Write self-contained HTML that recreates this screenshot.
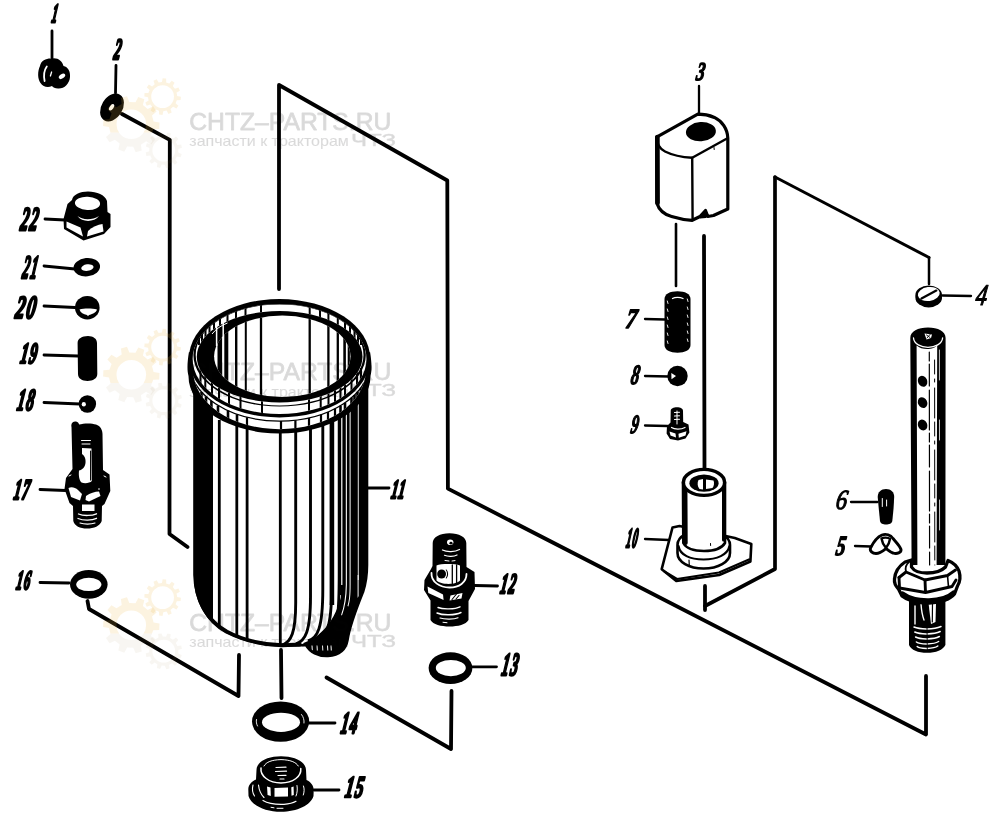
<!DOCTYPE html>
<html lang="ru">
<head>
<meta charset="utf-8">
<title>CHTZ-PARTS.RU</title>
<style>
html,body{margin:0;padding:0;background:#fff;}
body{width:1000px;height:821px;overflow:hidden;font-family:"Liberation Sans",sans-serif;}
svg{display:block;will-change:transform;}
svg text{font-family:"Liberation Sans",sans-serif;}
svg text.n{font-family:"Liberation Serif",serif;font-style:italic;fill:#000;}
.l{stroke:#000;fill:none;stroke-linecap:round;stroke-linejoin:round;}
</style>
</head>
<body>
<svg width="1000" height="821" viewBox="0 0 1000 821">
<rect width="1000" height="821" fill="#fff"/>
<defs>
<clipPath id="cb"><path d="M194.5 380 L194.5 575 C195 600 207 622 226 632 C244 641 262 645.5 282 646 L306 645 C310 652 318 656.5 328 656 C340 655 346 649 347.5 640 C350 624 357 607 363 592 C366 583 367 575 367 565 L367 380 Z"/></clipPath>
<clipPath id="ci"><ellipse cx="279.7" cy="359.5" rx="83.5" ry="46"/></clipPath>
</defs>
<g id="p11">
<path d="M194.5 380 L194.5 575 C195 600 207 622 226 632 C244 641 262 645.5 282 646 L306 645 C310 652 318 656.5 328 656 C340 655 346 649 347.5 640 C350 624 357 607 363 592 C366 583 367 575 367 565 L367 380 Z" fill="#fff" stroke="none"/>
<g clip-path="url(#cb)">
<rect x="190" y="380" width="23" height="280" fill="#000"/>
<rect x="338" y="380" width="34" height="215" fill="#000"/>
<rect x="329.6" y="380" width="4.6" height="225" fill="#000"/>
<rect x="341.2" y="380" width="1.2" height="215" fill="#fff"/>
<rect x="345.8" y="380" width="1.1" height="215" fill="#fff"/>
<rect x="349.6" y="380" width="1.0" height="215" fill="#fff"/>
<rect x="357.8" y="380" width="0.9" height="200" fill="#fff"/>
<path d="M219.3 420 L219.3 660" stroke="#000" stroke-width="2.8" fill="none"/>
<path d="M236.8 420 L236.8 660" stroke="#000" stroke-width="2.8" fill="none"/>
<path d="M247.1 420 L247.1 660" stroke="#000" stroke-width="2.8" fill="none"/>
<path d="M280.3 420 L280.3 660" stroke="#000" stroke-width="2.8" fill="none"/>
<path d="M295.7 420 L295.7 602.8 C295.7 633.0 291.0 642.0 282.4 645.0" stroke="#000" stroke-width="2.9" fill="none"/>
<path d="M310.5 420 L310.5 596.6 C310.5 632.0 305.1 641.0 295.8 644.0" stroke="#000" stroke-width="2.9" fill="none"/>
<path d="M322.8 420 L322.8 589.3 C322.8 629.0 317.4 638.0 308.0 641.0" stroke="#000" stroke-width="2.9" fill="none"/>
<path d="M331.8 420 L331.8 581.1 C331.8 624.0 327.9 633.0 320.0 636.0" stroke="#000" stroke-width="2.9" fill="none"/>
<path d="M339.2 420 L339.2 572.5 C339.2 618.0 337.1 627.0 331.0 630.0" stroke="#000" stroke-width="2.9" fill="none"/>
<path d="M341 585 L370 585 L370 660 L300 660 L303.5 643 C316 638.5 333 627 341 597 Z" fill="#000"/>
<path d="M345.8 585 C345.5 597 344 607 341 615 L342 615.5 C345.2 607 346.7 597 346.9 585 Z" fill="#fff"/>
<path d="M349.6 585 C349.6 595 349 601 347.5 606 L348.4 606.4 C350 601 350.6 595 350.6 585 Z" fill="#fff"/>
<path d="M357.6 575 L357.6 598 L358.6 596 L358.6 575 Z" fill="#fff"/>
<path d="M312.0 645.5 L312.3 650.5" stroke="#fff" stroke-width="1"/>
<path d="M317.0 645.5 L317.3 650.5" stroke="#fff" stroke-width="1"/>
<path d="M322.5 645.5 L322.8 650.5" stroke="#fff" stroke-width="1"/>
<path d="M327.5 645.5 L327.8 650.5" stroke="#fff" stroke-width="1"/>
<path d="M331.0 645.5 L331.3 650.5" stroke="#fff" stroke-width="1"/>
</g>
<path d="M194.5 380 L194.5 575 C195 600 207 622 226 632 C244 641 262 645.5 282 646 L306 645 C310 652 318 656.5 328 656 C340 655 346 649 347.5 640 C350 624 357 607 363 592 C366 583 367 575 367 565 L367 380 Z" fill="none" stroke="#000" stroke-width="2.6" stroke-linejoin="round"/>
<path d="M196 585 C199 606 210 622 227 631.5 C244 640.5 262 644.6 282 645 L300 644.6" fill="none" stroke="#000" stroke-width="3.6" stroke-linecap="round"/>
<path d="M188.9 352.2 C187.3 362.2 186.9 370.2 188.5 375.9 A91.0 57.6 0 0 0 370.5 375.9 C372.1 370.2 371.7 362.2 370.1 352.2 Z" fill="#000"/>
<clipPath id="cfl"><path d="M192.1 358.2 L193.3 371.0 A86.2 58.2 0 0 0 365.7 371.0 L366.9 358.2 Z"/></clipPath>
<g clip-path="url(#cfl)">
<rect x="180" y="350" width="200" height="100" fill="#fff"/>
<path d="M188.9 361.9 A90.6 59.2 0 0 0 370.1 361.9" fill="none" stroke="#000" stroke-width="1.3"/>
<path d="M201.5 392.0 L201.5 406.0" stroke="#000" stroke-width="2.6"/>
<path d="M206.0 396.5 L206.0 410.5" stroke="#000" stroke-width="2.6"/>
<path d="M211.4 400.9 L211.4 414.9" stroke="#000" stroke-width="2.6"/>
<path d="M218.0 405.4 L218.0 419.4" stroke="#000" stroke-width="2.6"/>
<path d="M228.0 410.6 L228.0 424.6" stroke="#000" stroke-width="2.6"/>
<path d="M237.0 414.2 L237.0 428.2" stroke="#000" stroke-width="2.6"/>
<path d="M247.0 417.2 L247.0 431.2" stroke="#000" stroke-width="2.2"/>
<path d="M281.0 421.1 L281.0 435.1" stroke="#000" stroke-width="2.2"/>
<path d="M295.4 420.2 L295.4 434.2" stroke="#000" stroke-width="2.2"/>
<path d="M309.0 417.9 L309.0 431.9" stroke="#000" stroke-width="2.2"/>
<path d="M321.0 414.5 L321.0 428.5" stroke="#000" stroke-width="2.2"/>
<path d="M328.0 411.9 L328.0 425.9" stroke="#000" stroke-width="2.2"/>
<path d="M335.0 408.7 L335.0 422.7" stroke="#000" stroke-width="2.2"/>
<path d="M340.5 405.7 L340.5 419.7" stroke="#000" stroke-width="2.6"/>
<path d="M345.0 402.8 L345.0 416.8" stroke="#000" stroke-width="2.6"/>
<path d="M351.5 397.8 L351.5 411.8" stroke="#000" stroke-width="2.6"/>
<path d="M354.5 395.1 L354.5 409.1" stroke="#000" stroke-width="2.6"/>
<path d="M357.5 392.0 L357.5 406.0" stroke="#000" stroke-width="2.6"/>
<path d="M361.0 387.7 L361.0 401.7" stroke="#000" stroke-width="2.6"/>
<path d="M364.0 383.2 L364.0 397.2" stroke="#000" stroke-width="2.6"/>
</g>
<ellipse cx="279.50" cy="358.25" rx="90.60" ry="59.25" fill="#000" />
<ellipse cx="279.55" cy="359.00" rx="86.90" ry="55.00" fill="#fff" />
<clipPath id="cw"><path clip-rule="evenodd" d="M192.65 359.00 a86.90 55.00 0 1 0 173.80 0 a86.90 55.00 0 1 0 -173.80 0 Z M196.80 356.75 a82.85 45.75 0 1 0 165.70 0 a82.85 45.75 0 1 0 -165.70 0 Z"/></clipPath>
<g clip-path="url(#cw)">
<path fill-rule="evenodd" fill="#000" d="M193.40 354.90 a86.20 51.70 0 1 0 172.40 0 a86.20 51.70 0 1 0 -172.40 0 Z M195.70 354.90 a83.90 50.50 0 1 0 167.80 0 a83.90 50.50 0 1 0 -167.80 0 Z"/>
<path d="M199.0 298 L199.0 345" stroke="#000" stroke-width="2"/>
<path d="M202.0 298 L202.0 345" stroke="#000" stroke-width="2"/>
<path d="M205.5 298 L205.5 345" stroke="#000" stroke-width="2"/>
<path d="M209.5 298 L209.5 345" stroke="#000" stroke-width="2"/>
<path d="M214.0 298 L214.0 345" stroke="#000" stroke-width="2"/>
<path d="M220.0 298 L220.0 345" stroke="#000" stroke-width="2"/>
<path d="M227.5 298 L227.5 345" stroke="#000" stroke-width="2"/>
<path d="M236.0 298 L236.0 345" stroke="#000" stroke-width="2"/>
<path d="M245.5 298 L245.5 345" stroke="#000" stroke-width="2"/>
<path d="M261.0 298 L261.0 345" stroke="#000" stroke-width="2"/>
<path d="M309.7 298 L309.7 345" stroke="#000" stroke-width="2"/>
<path d="M320.0 298 L320.0 345" stroke="#000" stroke-width="2"/>
<path d="M328.4 298 L328.4 345" stroke="#000" stroke-width="2"/>
<path d="M337.8 298 L337.8 345" stroke="#000" stroke-width="2"/>
<path d="M345.0 298 L345.0 345" stroke="#000" stroke-width="2"/>
<path d="M350.0 298 L350.0 345" stroke="#000" stroke-width="2"/>
<path d="M354.5 298 L354.5 345" stroke="#000" stroke-width="2"/>
<path d="M358.0 298 L358.0 345" stroke="#000" stroke-width="2"/>
<path d="M361.0 298 L361.0 345" stroke="#000" stroke-width="2"/>
<path d="M200.5 368 L200.5 420" stroke="#000" stroke-width="2"/>
<path d="M205.3 368 L205.3 420" stroke="#000" stroke-width="2"/>
<path d="M212.0 368 L212.0 420" stroke="#000" stroke-width="2"/>
<path d="M219.0 368 L219.0 420" stroke="#000" stroke-width="2"/>
<path d="M229.0 368 L229.0 420" stroke="#000" stroke-width="2"/>
<path d="M240.5 368 L240.5 420" stroke="#000" stroke-width="2"/>
<path d="M262.0 368 L262.0 420" stroke="#000" stroke-width="2"/>
<path d="M309.0 368 L309.0 420" stroke="#000" stroke-width="2"/>
<path d="M320.7 368 L320.7 420" stroke="#000" stroke-width="2"/>
<path d="M328.5 368 L328.5 420" stroke="#000" stroke-width="2"/>
<path d="M335.0 368 L335.0 420" stroke="#000" stroke-width="2"/>
<path d="M340.5 368 L340.5 420" stroke="#000" stroke-width="2"/>
<path d="M345.0 368 L345.0 420" stroke="#000" stroke-width="2"/>
<path d="M351.5 368 L351.5 420" stroke="#000" stroke-width="2"/>
<path d="M357.0 368 L357.0 420" stroke="#000" stroke-width="2"/>
<path d="M361.0 368 L361.0 420" stroke="#000" stroke-width="2"/>
</g>
<ellipse cx="279.65" cy="356.75" rx="82.85" ry="45.75" fill="#000" />
<clipPath id="clit"><ellipse cx="282.30" cy="356.30" rx="68.20" ry="40.70"/></clipPath>
<g clip-path="url(#clit)">
<rect x="180" y="290" width="200" height="140" fill="#fff"/>
<path d="M219.8 300 L219.8 420" stroke="#000" stroke-width="4.6"/>
<path d="M226.3 300 L226.3 420" stroke="#000" stroke-width="4.0"/>
<path d="M236.2 300 L236.2 420" stroke="#000" stroke-width="2.4"/>
<path d="M245.8 300 L245.8 420" stroke="#000" stroke-width="2.0"/>
<path d="M261.0 300 L261.0 420" stroke="#000" stroke-width="2.3"/>
<path d="M309.7 300 L309.7 420" stroke="#000" stroke-width="2.3"/>
<path d="M328.4 300 L328.4 420" stroke="#000" stroke-width="2.3"/>
<path d="M337.8 300 L337.8 420" stroke="#000" stroke-width="2.3"/>
<path d="M344.6 300 L344.6 420" stroke="#000" stroke-width="2.6"/>
<path d="M348.8 300 L348.8 420" stroke="#000" stroke-width="2.2"/>
</g>
<path d="M216.6 324 L216.6 346 M223.2 319.5 L223.2 338" stroke="#fff" stroke-width="1.5" fill="none"/>
<path d="M212 334 C216 329 221 325.5 227.5 323" stroke="#fff" stroke-width="1" fill="none"/>
</g>
<g id="p1">
<path d="M40 66 C41 60 47 58 52 58.5 C58 57.5 62 61 63.5 66 C68 67 70.5 71.5 70 77 C69.5 84 64 89 58 88.5 C55 88.5 53 87.5 52 86 C48 88 43 87 40.5 83 C37.5 79 37.5 71 40 66 Z" fill="#000" stroke="none" stroke-width="0" stroke-linejoin="round" stroke-linecap="round" />
<path d="M46.8 66.5 C44.3 70 43.6 76 44.6 81" fill="none" stroke="#fff" stroke-width="1.8" stroke-linejoin="round" stroke-linecap="round" />
<path d="M51.6 72 L50.4 76" fill="none" stroke="#fff" stroke-width="1.3" stroke-linejoin="round" stroke-linecap="round" />
<ellipse cx="62" cy="76.3" rx="3.6" ry="2.1" fill="#fff" stroke="none" stroke-width="0" transform="rotate(-35 62 76.3)"/>
</g>
<g id="p2">
<ellipse cx="112" cy="107.5" rx="10.5" ry="15" fill="#000" stroke="none" stroke-width="0" transform="rotate(32 112 107.5)"/>
<ellipse cx="111.6" cy="107.3" rx="1.9" ry="3.6" fill="#fff" stroke="none" stroke-width="0" transform="rotate(35 111.6 107.3)"/>
</g>
<g id="p22">
<path d="M72 200 C73 194.5 80 191.5 88 191.5 C97 191.5 105 195 107 201 L107.5 212 L110.5 214 L110.5 227 L104 234 L83.5 240.5 L64 229 L63.5 219 L67.5 204 Z" fill="#000" stroke="none" stroke-width="0" stroke-linejoin="round" stroke-linecap="round" />
<ellipse cx="87.5" cy="203.3" rx="12.6" ry="6.6" fill="#fff" stroke="none" stroke-width="0" transform="rotate(3 87.5 203.3)"/>
<path d="M77.5 216 C82 220 92 220.5 99 216 C94 222.5 82 222.5 77.5 216 Z" fill="#fff" stroke="none" stroke-width="0" stroke-linejoin="round" stroke-linecap="round" />
<path d="M66.5 221.5 L80.5 227.5 L83 236.5 L66.5 227.5 Z" fill="#fff" stroke="none" stroke-width="0" stroke-linejoin="round" stroke-linecap="round" />
<path d="M88 231 C92 227 98 224.5 102.5 224 L103.5 231.5 L87 236.5 Z" fill="#fff" stroke="none" stroke-width="0" stroke-linejoin="round" stroke-linecap="round" />
</g>
<g id="p21">
<ellipse cx="86.8" cy="267.2" rx="13.3" ry="9.2" fill="#000" stroke="none" stroke-width="0" transform="rotate(-6 86.8 267.2)"/>
<ellipse cx="87.4" cy="267.6" rx="6.2" ry="3.3" fill="#fff" stroke="none" stroke-width="0" transform="rotate(-8 87.4 267.6)"/>
</g>
<g id="p20">
<ellipse cx="87.3" cy="307.7" rx="12.3" ry="11.8" fill="#000" stroke="none" stroke-width="0"/>
<path d="M79.5 309.6 C84 308.3 92 308.3 97 309.6 C96 313 92 314.5 89 315 L88 316.3 L87 315 C83.5 314.6 80.5 313 79.5 309.6 Z" fill="#fff" stroke="none" stroke-width="0" stroke-linejoin="round" stroke-linecap="round" />
</g>
<g id="p19">
<path d="M77.6 343 C77.6 338.5 82 336.2 88 336 C93 336.2 97 338.5 97 343 L97.3 374 C97.3 378.5 93 380.8 87.5 381 C82 380.8 78 378.5 78 374 Z" fill="#000" stroke="none" stroke-width="0" stroke-linejoin="round" stroke-linecap="round" />
</g>
<g id="p18">
<ellipse cx="87.4" cy="404" rx="8.7" ry="8.7" fill="#000" stroke="none" stroke-width="0"/>
<ellipse cx="83.8" cy="404.2" rx="2.1" ry="2.3" fill="#fff" stroke="none" stroke-width="0"/>
</g>
<g id="p17">
<path d="M71.5 427 C70.5 423 73.5 421 76 421.5 C78 422 79 423.5 79 424.5 C84 423 92 423 96 424.5 C100.5 426 102.5 430 102.5 434 L103 470 L109.5 474.5 L110.3 491 L104.5 504 L102 506 L101.7 521 C100 526 94 528.5 87 528.5 C80 528.5 74.5 526 73.3 521 L73 506 L69.5 503 L64.5 489 L66 478 L72.5 469 Z" fill="#000" stroke="none" stroke-width="0" stroke-linejoin="round" stroke-linecap="round" />
<path d="M81.5 440.5 L90.5 440.5 M82 444 L90 444" fill="none" stroke="#fff" stroke-width="1" stroke-linejoin="round" stroke-linecap="round" />
<path d="M82 448 L91.5 448.5 L91.8 481 C90 483 85 484 81.5 482.5 C79 480 78.5 475 79 470.5 C82 470 85 467.5 85.5 463 C86 459 84.5 455.5 82 454 Z" fill="#fff" stroke="none" stroke-width="0" stroke-linejoin="round" stroke-linecap="round" />
<path d="M90.6 451 L90.6 480" fill="none" stroke="#000" stroke-width="1.1" stroke-linejoin="round" stroke-linecap="round" />
<path d="M68.5 488 C71 486.5 75 487 78 490 L82 494 L80 500.5 L71 497 Z" fill="#fff" stroke="none" stroke-width="0" stroke-linejoin="round" stroke-linecap="round" />
<path d="M86 496 C90 493 95 491.5 99 491.5 L100.5 496 L89 501.5 L85.5 500 Z" fill="#fff" stroke="none" stroke-width="0" stroke-linejoin="round" stroke-linecap="round" />
<path d="M69 476 L71 475 M104 476 L106 477 M75 490 L76 490.5 M98.5 489 L99.5 489" fill="none" stroke="#fff" stroke-width="1" stroke-linejoin="round" stroke-linecap="round" />
<path d="M82 504.5 L94.5 504.5 L94.5 511 L82 511 Z" fill="#fff" stroke="none" stroke-width="0" stroke-linejoin="round" stroke-linecap="round" />
<path d="M78.5 514 C83 516 92 516 96.5 513.8" fill="none" stroke="#fff" stroke-width="1.3" stroke-linejoin="round" stroke-linecap="round" />
<path d="M78 518.5 C83 520.6 92 520.6 96.5 518.3" fill="none" stroke="#fff" stroke-width="1.3" stroke-linejoin="round" stroke-linecap="round" />
<path d="M80 523 C84 524.5 91 524.5 95 523" fill="none" stroke="#fff" stroke-width="1.1" stroke-linejoin="round" stroke-linecap="round" />
</g>
<g id="p16">
<ellipse cx="88.8" cy="584.4" rx="18.8" ry="14.4" fill="#000" stroke="none" stroke-width="0"/>
<ellipse cx="88.8" cy="584.4" rx="12.6" ry="6.7" fill="#fff" stroke="none" stroke-width="0"/>
</g>
<g id="p12">
<path d="M432.7 543 C432.7 537 440 533.2 449.5 533.2 C459 533.2 466.3 537 466.3 543 L466.5 567 L474.5 572 L475 589 L468.5 601 L468.5 620 C466 624.5 458 626.5 449.5 626.5 C441 626.5 433 624.5 430.5 620 L430.5 600.5 L424 590 L424.5 580 L431 569 L432.5 566 Z" fill="#000" stroke="none" stroke-width="0" stroke-linejoin="round" stroke-linecap="round" />
<ellipse cx="450.2" cy="542.2" rx="3.2" ry="2.8" fill="#fff" stroke="none" stroke-width="0"/>
<ellipse cx="451" cy="543.2" rx="1.6" ry="1.4" fill="#000" stroke="none" stroke-width="0"/>
<path d="M442.5 550 C447 552.3 455 552 459.5 549.5" fill="none" stroke="#fff" stroke-width="1.3" stroke-linejoin="round" stroke-linecap="round" />
<path d="M444.5 555.3 C448 556.8 454 556.6 457 555" fill="none" stroke="#fff" stroke-width="1.2" stroke-linejoin="round" stroke-linecap="round" />
<path d="M445 560.5 L449 561 M452 561 L455 560.6" fill="none" stroke="#fff" stroke-width="1" stroke-linejoin="round" stroke-linecap="round" />
<path d="M436.5 565.5 C441 563.6 455 563.6 460 565.5 L460 580.5 C456 585 441 585 436.5 580.5 Z" fill="#fff" stroke="none" stroke-width="0" stroke-linejoin="round" stroke-linecap="round" />
<ellipse cx="441.6" cy="574" rx="4.4" ry="4.6" fill="#000" stroke="none" stroke-width="0"/>
<path d="M452.3 565 L452.3 584 M456.6 565 L456.6 583" fill="none" stroke="#000" stroke-width="1.3" stroke-linejoin="round" stroke-linecap="round" />
<path d="M446.3 570 C448 572 448 576 446.3 578" fill="none" stroke="#000" stroke-width="1.1" stroke-linejoin="round" stroke-linecap="round" />
<path d="M431.5 573 C431 582 440 587.5 449.5 587.5 C459 587.5 466.5 582.5 466.5 574" fill="none" stroke="#fff" stroke-width="1.8" stroke-linejoin="round" stroke-linecap="round" />
<path d="M427.5 586.5 L443 594.5 L443.6 600 L428.3 593 Z" fill="#fff" stroke="none" stroke-width="0" stroke-linejoin="round" stroke-linecap="round" />
<path d="M450.5 595.5 L462.5 593 L461.5 598.5 L449.5 600.5 Z" fill="#fff" stroke="none" stroke-width="0" stroke-linejoin="round" stroke-linecap="round" />
<path d="M452 599.5 L456.5 594 M456 599 L459 595.5" fill="none" stroke="#000" stroke-width="1.1" stroke-linejoin="round" stroke-linecap="round" />
<path d="M438 607.5 C443 609.6 455 609.3 460 606.8" fill="none" stroke="#fff" stroke-width="1.4" stroke-linejoin="round" stroke-linecap="round" />
<path d="M437 613 C443 615.6 455 615.3 461 612.5" fill="none" stroke="#fff" stroke-width="1.4" stroke-linejoin="round" stroke-linecap="round" />
<path d="M440 618 C445 619.6 454 619.4 458 617.8" fill="none" stroke="#fff" stroke-width="1.2" stroke-linejoin="round" stroke-linecap="round" />
<path d="M443 622.3 L447 622.7" fill="none" stroke="#fff" stroke-width="1" stroke-linejoin="round" stroke-linecap="round" />
</g>
<g id="p13">
<ellipse cx="450.5" cy="668.1" rx="21.9" ry="15.9" fill="#000" stroke="none" stroke-width="0"/>
<ellipse cx="450.8" cy="668.1" rx="15" ry="8.1" fill="#fff" stroke="none" stroke-width="0"/>
</g>
<g id="p14">
<ellipse cx="280.6" cy="721.6" rx="28.6" ry="20.2" fill="#000" stroke="none" stroke-width="0"/>
<ellipse cx="281" cy="722.3" rx="19" ry="9.6" fill="#fff" stroke="none" stroke-width="0"/>
<path d="M301.5 714.5 C303.5 717 304.3 720 304 723" fill="none" stroke="#fff" stroke-width="0.9" stroke-linejoin="round" stroke-linecap="round" />
<path d="M256.5 719.5 C256 722 256.5 724 257.5 726" fill="none" stroke="#fff" stroke-width="0.9" stroke-linejoin="round" stroke-linecap="round" />
</g>
<g id="p15">
<path d="M256.5 770 C256.5 762 267 756.2 281 756.2 C295 756.2 306 762 306 770 L306.5 780 C311 782 313.7 786 313.7 790 L313.5 796 C311 805 297 811.8 281 811.8 C265 811.8 251 805 248.5 796 L248.3 789 C248.5 785 251.5 781.5 256 779.5 Z" fill="#000" stroke="none" stroke-width="0" stroke-linejoin="round" stroke-linecap="round" />
<path d="M261 768 C260 776 269 783 281 783 C293 783 301.5 776.5 300.8 768.5" fill="none" stroke="#fff" stroke-width="1.5" stroke-linejoin="round" stroke-linecap="round" />
<path d="M264 766 C266 762 272 759.8 281 759.6 C290 759.8 296 762 298.3 766" fill="none" stroke="#fff" stroke-width="1" stroke-linejoin="round" stroke-linecap="round" />
<path d="M276 767.5 L286 767.2 M275.5 771.5 L286.5 771.2 M278 775.5 L286 775.3 M280 779 L284 779" fill="none" stroke="#fff" stroke-width="1.2" stroke-linejoin="round" stroke-linecap="round" />
<path d="M274.5 788 L288 787.6 L288 796.5 L274.5 796.8 Z" fill="#fff" stroke="none" stroke-width="0" stroke-linejoin="round" stroke-linecap="round" />
<path d="M267 786.5 L270.5 787.5 L270.8 796 L267.6 795 Z" fill="#fff" stroke="none" stroke-width="0" stroke-linejoin="round" stroke-linecap="round" />
<path d="M291.3 787.3 L293.6 786.6 L293.8 795 L291.5 795.8 Z" fill="#fff" stroke="none" stroke-width="0" stroke-linejoin="round" stroke-linecap="round" />
<path d="M253 785 C252 789 252.5 793 254.5 796" fill="none" stroke="#fff" stroke-width="1.1" stroke-linejoin="round" stroke-linecap="round" />
<path d="M258.5 785 C259 790 261 794.5 264 797.5" fill="none" stroke="#fff" stroke-width="1.1" stroke-linejoin="round" stroke-linecap="round" />
<path d="M297 785.5 C297.6 789 297.3 793 296 796" fill="none" stroke="#fff" stroke-width="1" stroke-linejoin="round" stroke-linecap="round" />
<path d="M303.5 786 C304.5 789 304.3 792 303.3 795" fill="none" stroke="#fff" stroke-width="1" stroke-linejoin="round" stroke-linecap="round" />
<path d="M263 800.5 C268 803.5 276 804.6 284 804.3 C289 804 293.5 802.8 296 801.3" fill="none" stroke="#fff" stroke-width="1.2" stroke-linejoin="round" stroke-linecap="round" />
<path d="M271 807.3 L274 807.8 M277 808.3 L283 808.3" fill="none" stroke="#fff" stroke-width="1" stroke-linejoin="round" stroke-linecap="round" />
</g>
<g id="p3">
<path d="M697.8 114.2 L656.6 137.2 L656.8 203 C659 210 664 214.5 671.6 216.5 C678 218.5 686 220 692.2 220.3 L700 216.5 L705.5 210.5 L707.8 216.5 L713.5 215.5 L727.8 209 L727.8 138 C727.5 129 722 121 714.4 117.4 C709 115.2 703 114.2 697.8 114.2 Z" fill="#fff" stroke="#000" stroke-width="3.2" stroke-linejoin="round" stroke-linecap="round" />
<path d="M656.6 137.2 C657 144 660 149 665 151.5 C673 155.5 683 157.3 692.2 157.8 L727 138.5" fill="none" stroke="#000" stroke-width="2.4" stroke-linejoin="round" stroke-linecap="round" />
<path d="M692.2 157.8 L692.6 220" fill="none" stroke="#000" stroke-width="2.4" stroke-linejoin="round" stroke-linecap="round" />
<path d="M657.4 137 L657.6 203" fill="none" stroke="#000" stroke-width="4.6" stroke-linejoin="round" stroke-linecap="round" />
<path d="M700 216.5 L705.5 210.5 L707.8 216.5 L706 218 L700 218.5 Z" fill="#000" stroke="none" stroke-width="0" stroke-linejoin="round" stroke-linecap="round" />
<ellipse cx="700.9" cy="131.7" rx="15" ry="9.6" fill="#000" stroke="none" stroke-width="0" transform="rotate(-4 700.9 131.7)"/>
<path d="M714 147.5 L714.2 149.5" fill="none" stroke="#000" stroke-width="1" stroke-linejoin="round" stroke-linecap="round" />
</g>
<g id="p7">
<path d="M664.5 299 C664.5 294 670 291.3 677.5 291.3 C685 291.3 690.5 294 690.5 299 L690.5 345 C690.5 350 685 352.7 677.5 352.7 C670 352.7 664.5 350 664.5 345 Z" fill="#000" stroke="none" stroke-width="0" stroke-linejoin="round" stroke-linecap="round" />
<path d="M672.5 298.5 C675 297 680 297 683 298.5" fill="none" stroke="#fff" stroke-width="1.3" stroke-linejoin="round" stroke-linecap="round" />
<path d="M667.3 301 L668 303.5" fill="none" stroke="#fff" stroke-width="0.9" stroke-linejoin="round" stroke-linecap="round" />
<path d="M687.3 299 L688 301.5" fill="none" stroke="#fff" stroke-width="0.9" stroke-linejoin="round" stroke-linecap="round" />
<path d="M667.3 309 L668 311.5" fill="none" stroke="#fff" stroke-width="0.9" stroke-linejoin="round" stroke-linecap="round" />
<path d="M687.3 307 L688 309.5" fill="none" stroke="#fff" stroke-width="0.9" stroke-linejoin="round" stroke-linecap="round" />
<path d="M667.3 317 L668 319.5" fill="none" stroke="#fff" stroke-width="0.9" stroke-linejoin="round" stroke-linecap="round" />
<path d="M687.3 315 L688 317.5" fill="none" stroke="#fff" stroke-width="0.9" stroke-linejoin="round" stroke-linecap="round" />
<path d="M667.3 325 L668 327.5" fill="none" stroke="#fff" stroke-width="0.9" stroke-linejoin="round" stroke-linecap="round" />
<path d="M687.3 323 L688 325.5" fill="none" stroke="#fff" stroke-width="0.9" stroke-linejoin="round" stroke-linecap="round" />
<path d="M667.3 333 L668 335.5" fill="none" stroke="#fff" stroke-width="0.9" stroke-linejoin="round" stroke-linecap="round" />
<path d="M687.3 331 L688 333.5" fill="none" stroke="#fff" stroke-width="0.9" stroke-linejoin="round" stroke-linecap="round" />
<path d="M667.3 341 L668 343.5" fill="none" stroke="#fff" stroke-width="0.9" stroke-linejoin="round" stroke-linecap="round" />
<path d="M687.3 339 L688 341.5" fill="none" stroke="#fff" stroke-width="0.9" stroke-linejoin="round" stroke-linecap="round" />
</g>
<g id="p8">
<ellipse cx="677.5" cy="376" rx="10.2" ry="10.2" fill="#000" stroke="none" stroke-width="0"/>
<path d="M671.3 373 L676 376 L671.5 379.3 Z" fill="#fff" stroke="none" stroke-width="0" stroke-linejoin="round" stroke-linecap="round" />
</g>
<g id="p9">
<path d="M670.7 411 C670.7 408.5 673.5 407.3 677 407.3 C680.5 407.3 683 408.5 683 411 L683.2 422 L688.5 424.5 L689.4 432.5 L685.5 438.5 L678 440.6 L670 439 L666.6 433.5 L667 426 L670.5 422.5 Z" fill="#000" stroke="none" stroke-width="0" stroke-linejoin="round" stroke-linecap="round" />
<path d="M674.5 412.5 L679.5 412.3 M674.5 416 L679.5 415.8 M674.5 419.5 L679.5 419.3" fill="none" stroke="#fff" stroke-width="1.1" stroke-linejoin="round" stroke-linecap="round" />
<path d="M677 411 L677 424" fill="none" stroke="#fff" stroke-width="1" stroke-linejoin="round" stroke-linecap="round" />
<path d="M671.5 427.5 C674.5 429.6 681 429.6 685 427.5" fill="none" stroke="#fff" stroke-width="1.2" stroke-linejoin="round" stroke-linecap="round" />
<path d="M669.5 431.5 L675.5 433.5 L676 437.5 L670.5 435.5 Z" fill="#fff" stroke="none" stroke-width="0" stroke-linejoin="round" stroke-linecap="round" />
<path d="M678.5 433.8 L686.5 431.3 L685.5 435.5 L678.8 437.8 Z" fill="#fff" stroke="none" stroke-width="0" stroke-linejoin="round" stroke-linecap="round" />
</g>
<g id="p10">
<path d="M672.5 527.5 L679.5 526 L734.8 538 L751.3 544 L750.4 561.5 L719.2 575 L676.3 581 L661.7 569.2 Z" fill="#fff" stroke="#000" stroke-width="2.6" stroke-linejoin="round" stroke-linecap="round" />
<path d="M664.5 571.5 L677 579 L719 572.5 L749 559.5" fill="none" stroke="#000" stroke-width="2.2" stroke-linejoin="round" stroke-linecap="round" />
<path d="M677.5 545 C677.5 536 689 530.5 703.6 530.5 C718 530.5 730 536 730 545 L730 553 C730 562 718 568.5 703.6 568.5 C689 568.5 677.5 562 677.5 553 Z" fill="#fff" stroke="#000" stroke-width="2.6" stroke-linejoin="round" stroke-linecap="round" />
<path d="M678.5 546 C680 555 690 559.5 703.6 559.5 C717 559.5 727.5 555 729.5 546" fill="none" stroke="#000" stroke-width="2.2" stroke-linejoin="round" stroke-linecap="round" />
<path d="M689 560 L689.3 565.5" fill="none" stroke="#000" stroke-width="1.2" stroke-linejoin="round" stroke-linecap="round" />
<path d="M683 482 L683.3 543 C686 548 694 551 704 551 C714 551 722 548 725 543 L725 482 Z" fill="#fff" stroke="#000" stroke-width="2.6" stroke-linejoin="round" stroke-linecap="round" />
<path d="M685.3 484 L685.6 543" fill="none" stroke="#000" stroke-width="4.2" stroke-linejoin="round" stroke-linecap="round" />
<path d="M723.6 490 L723.6 540" fill="none" stroke="#000" stroke-width="3.2" stroke-linejoin="round" stroke-linecap="round" />
<ellipse cx="704" cy="482.4" rx="20.6" ry="13" fill="#fff" stroke="#000" stroke-width="3.4"/>
<ellipse cx="704" cy="483.2" rx="14.6" ry="8.6" fill="#000" stroke="none" stroke-width="0"/>
<path d="M698.5 480 C697 483 697.5 486.5 699.5 489 L703 489.5 L703 479 Z" fill="#fff" stroke="none" stroke-width="0" stroke-linejoin="round" stroke-linecap="round" />
<path d="M706 479.5 L713.5 480.5 C714.5 483 714 486 712.5 488 L706 489 Z" fill="#fff" stroke="none" stroke-width="0" stroke-linejoin="round" stroke-linecap="round" />
<path d="M710.5 543.5 L710.6 545.5" fill="none" stroke="#000" stroke-width="1" stroke-linejoin="round" stroke-linecap="round" />
</g>
<g id="p4">
<ellipse cx="928.7" cy="297.8" rx="13.3" ry="9.6" fill="#000" stroke="none" stroke-width="0"/>
<ellipse cx="928.7" cy="295" rx="13.3" ry="9.6" fill="#000" stroke="none" stroke-width="0"/>
<ellipse cx="928.8" cy="294" rx="11" ry="7" fill="#fff" stroke="none" stroke-width="0" transform="rotate(-8 928.8 294)"/>
<path d="M921.5 298.5 L936.3 290.6" fill="none" stroke="#000" stroke-width="2.3" stroke-linejoin="round" stroke-linecap="round" />
</g>
<g id="rod">
<path d="M910.3 338 C910.3 331.5 918 327.6 928 327.6 C938 327.6 945.6 331.5 945.6 338 L945.4 565 L911.8 565 Z" fill="#fff" stroke="#000" stroke-width="0" stroke-linejoin="round" stroke-linecap="round" />
<path d="M910.3 338 C910.3 331.5 918 327.6 928 327.6 C938 327.6 945.6 331.5 945.6 338 L945.4 565 L936.6 565 L937.2 345 C934 350 922 350.5 916.6 345.5 L917.4 565 L911.6 565 Z" fill="#000" stroke="none" stroke-width="0" stroke-linejoin="round" stroke-linecap="round" />
<ellipse cx="928" cy="337.3" rx="12.5" ry="6.6" fill="#000" stroke="none" stroke-width="0"/>
<path d="M913.5 338 C914 344 921 347.3 928 347.3 C935 347.3 942 344 942.6 338" fill="none" stroke="#fff" stroke-width="1.3" stroke-linejoin="round" stroke-linecap="round" />
<path d="M924.5 333.5 L932 334.5 L931 338 L926.5 339.5 Z" fill="#fff" stroke="none" stroke-width="0" stroke-linejoin="round" stroke-linecap="round" />
<path d="M926.5 335 L930 337.5 M930 334.5 L927 338" fill="none" stroke="#000" stroke-width="0.9" stroke-linejoin="round" stroke-linecap="round" />
<path d="M929.3 352 L929.6 565" fill="none" stroke="#000" stroke-width="1.2" stroke-linejoin="round" stroke-linecap="round" stroke-dasharray="9 3 22 4 40 3"/>
<path d="M934.6 360 L934.8 565" fill="none" stroke="#000" stroke-width="1" stroke-linejoin="round" stroke-linecap="round" stroke-dasharray="14 5 3 6 30 4"/>
<path d="M939.4 350 L939.6 560" fill="none" stroke="#fff" stroke-width="0.8" stroke-linejoin="round" stroke-linecap="round" stroke-dasharray="30 40 20 60"/>
<ellipse cx="922.6" cy="381.3" rx="4.6" ry="5.6" fill="#000" stroke="none" stroke-width="0" transform="rotate(-25 922.6 381.3)"/>
<ellipse cx="922.6" cy="402.6" rx="4.6" ry="5.6" fill="#000" stroke="none" stroke-width="0" transform="rotate(-25 922.6 402.6)"/>
<ellipse cx="922.6" cy="425" rx="4.6" ry="5.6" fill="#000" stroke="none" stroke-width="0" transform="rotate(-25 922.6 425)"/>
</g>
<g id="p6">
<path d="M877.7 497 C877.7 492 881 489 886 489 C891 489 894.2 492 894.2 497 L893.5 509 L892.3 521 C892 523.5 889 524.5 886 524.5 C883 524.5 880.3 523.5 880 521 L878.8 509 Z" fill="#000" stroke="none" stroke-width="0" stroke-linejoin="round" stroke-linecap="round" />
<path d="M882.3 498.5 L882.3 506.5 M886.6 500 L886.6 506" fill="none" stroke="#fff" stroke-width="1" stroke-linejoin="round" stroke-linecap="round" />
</g>
<g id="p5">
<path d="M870.5 548 C873 543 877 537 882 535 C886 533.5 890.5 535 893 538.5 C896 542 900 546 901 549.5 C901.5 552.5 897 554.5 893 553 C890 552 887.5 549.5 886 548.5 C883.5 550.5 880 553.5 876 553.5 C872.5 553.5 869.5 551 870.5 548 Z" fill="#fff" stroke="#000" stroke-width="2.9" stroke-linejoin="round" stroke-linecap="round" />
<path d="M881.5 538.5 C883.5 537.3 888 537.3 890 539 C889.5 542.5 888 545.5 886 548 C884 545.5 882 542.5 881.5 538.5 Z" fill="#fff" stroke="#000" stroke-width="2.4" stroke-linejoin="round" stroke-linecap="round" />
</g>
<g id="rodnut">
<path d="M909 598 L945.4 598 L945.4 645 C943 650 936 652.8 927 652.8 C918 652.8 911 650 909 645 Z" fill="#000" stroke="none" stroke-width="0" stroke-linejoin="round" stroke-linecap="round" />
<path d="M915 606 L915 624 M921 604 C921.5 611 922.5 616 924 620" fill="none" stroke="#fff" stroke-width="1.4" stroke-linejoin="round" stroke-linecap="round" />
<path d="M928.5 603 L936 603 L935.5 622 L931 624 Z" fill="#fff" stroke="none" stroke-width="0" stroke-linejoin="round" stroke-linecap="round" />
<path d="M932.5 603 L932.3 622" fill="none" stroke="#000" stroke-width="1.2" stroke-linejoin="round" stroke-linecap="round" />
<path d="M914.0 627.0 C920.0 629.6 934.0 629.6 941.0 626.5" fill="none" stroke="#fff" stroke-width="1.5" stroke-linejoin="round" stroke-linecap="round" />
<path d="M914.8 632.0 C920.0 634.6 934.0 634.6 940.2 631.5" fill="none" stroke="#fff" stroke-width="1.5" stroke-linejoin="round" stroke-linecap="round" />
<path d="M915.6 637.0 C920.0 639.6 934.0 639.6 939.4 636.5" fill="none" stroke="#fff" stroke-width="1.5" stroke-linejoin="round" stroke-linecap="round" />
<path d="M916.4 642.0 C920.0 644.6 934.0 644.6 938.6 641.5" fill="none" stroke="#fff" stroke-width="1.5" stroke-linejoin="round" stroke-linecap="round" />
<path d="M917.2 646.5 C920.0 649.1 934.0 649.1 937.8 646.0" fill="none" stroke="#fff" stroke-width="1.5" stroke-linejoin="round" stroke-linecap="round" />
<path d="M927 626 L927.3 650" fill="none" stroke="#000" stroke-width="0.9" stroke-linejoin="round" stroke-linecap="round" />
<path d="M905 562 C899 566 895 572 894.5 579 C894 583 896 586.5 898.5 589 L902 596 C908 601 918 603 929 603 C940 602.5 950 599.5 954.5 594 L957.5 586 C960 582 960.5 576 959 571 C957 566 953 562.5 948 560.5 L945.5 567 C941 571.5 934 573 927 573 C920 573 914 571 911.5 567 L911.5 560 Z" fill="#fff" stroke="#000" stroke-width="3.3" stroke-linejoin="round" stroke-linecap="round" />
<path d="M899 577.5 L906 572 L925 580 L947.5 575.5 L955.5 570" fill="none" stroke="#000" stroke-width="2.9" stroke-linejoin="round" stroke-linecap="round" />
<path d="M925 580 L925.5 592.5 M899 577.5 L899.5 588 L925.5 592.5 L952 586.5 L956 580" fill="none" stroke="#000" stroke-width="2.9" stroke-linejoin="round" stroke-linecap="round" />
<path d="M947.5 575.5 L948.5 587" fill="none" stroke="#000" stroke-width="1.6" stroke-linejoin="round" stroke-linecap="round" />
<path d="M906 572 C905 568 906 564.5 909 562" fill="none" stroke="#000" stroke-width="1.8" stroke-linejoin="round" stroke-linecap="round" />
<path d="M902.5 593.5 C910 599 920 600.5 929 600.3 C939 600 948 597.5 953.5 592.5" fill="none" stroke="#000" stroke-width="4.2" stroke-linejoin="round" stroke-linecap="round" />
</g>
<g id="leaders">
<path class="l" d="M122 114 L169.8 139.8 L169.5 534 L187.5 547" stroke-width="3.8"/>
<path class="l" d="M279 289 L279 85 L447.3 180.5 L447.9 488.6 L926 734.5 L926 676" stroke-width="3.8"/>
<path class="l" d="M676 224 L676 286" stroke-width="2.6"/>
<path class="l" d="M704 236 L704.5 469" stroke-width="3.8"/>
<path class="l" d="M775 177 L775 569 L705 606" stroke-width="3.7"/>
<path class="l" d="M929 257.5 L775 177" stroke-width="3.0"/>
<path class="l" d="M929 284 L929 257.5" stroke-width="2.5"/>
<path class="l" d="M705 586 L705 610" stroke-width="3.8"/>
<path class="l" d="M87.5 601 L89 609 L238.5 696 L239 655" stroke-width="3.8"/>
<path class="l" d="M281 650 L281.5 698" stroke-width="3.8"/>
<path class="l" d="M326.5 677.5 L451 749 L451.5 691" stroke-width="3.8"/>
<path class="l" d="M45 219 L65 220" stroke-width="2.8"/>
<path class="l" d="M44 266 L75 269" stroke-width="2.8"/>
<path class="l" d="M44 306 L75 307.5" stroke-width="2.8"/>
<path class="l" d="M44 355 L78 356" stroke-width="2.8"/>
<path class="l" d="M44 402.5 L80 404" stroke-width="2.8"/>
<path class="l" d="M40 489.5 L65.5 490.5" stroke-width="2.8"/>
<path class="l" d="M40 582.5 L69 583" stroke-width="2.8"/>
<path class="l" d="M367.5 488 L389 488" stroke-width="2.8"/>
<path class="l" d="M475 585.5 L497.5 586" stroke-width="2.8"/>
<path class="l" d="M472.5 666.8 L496.5 666.8" stroke-width="2.8"/>
<path class="l" d="M309 723 L335 723" stroke-width="2.8"/>
<path class="l" d="M314 790 L339 790" stroke-width="2.8"/>
<path class="l" d="M699 86 L699 114" stroke-width="2.3"/>
<path class="l" d="M645 319 L665 319.5" stroke-width="2.3"/>
<path class="l" d="M645 376 L669 376.5" stroke-width="2.3"/>
<path class="l" d="M645 425.5 L667.5 426" stroke-width="2.3"/>
<path class="l" d="M645 539 L669 540" stroke-width="2.3"/>
<path class="l" d="M942.5 295.5 L971 296" stroke-width="2.3"/>
<path class="l" d="M851 502 L877.5 502" stroke-width="2.3"/>
<path class="l" d="M855 546 L871 546.5" stroke-width="2.3"/>
<path class="l" d="M52 31 L52 58" stroke-width="2.8"/>
<path class="l" d="M116 65.5 L115.5 93" stroke-width="2.8"/>
</g>
<g id="nums">
<text class="n" transform="translate(51.00 22.40) skewX(-9) scale(0.424 1)" font-size="26.46" font-weight="bold" stroke="#000" stroke-width="2.2" stroke-linejoin="round" vector-effect="non-scaling-stroke" letter-spacing="2.5">1</text>
<text class="n" transform="translate(113.00 59.10) skewX(-9) scale(0.469 1)" font-size="29.35" font-weight="bold" stroke="#000" stroke-width="2.2" stroke-linejoin="round" vector-effect="non-scaling-stroke" letter-spacing="2.5">2</text>
<text class="n" transform="translate(19.50 229.80) skewX(-9) scale(0.491 1)" font-size="32.95" font-weight="bold" stroke="#000" stroke-width="2.2" stroke-linejoin="round" vector-effect="non-scaling-stroke" letter-spacing="2.5">22</text>
<text class="n" transform="translate(21.60 277.70) skewX(-9) scale(0.422 1)" font-size="32.68" font-weight="bold" stroke="#000" stroke-width="2.2" stroke-linejoin="round" vector-effect="non-scaling-stroke" letter-spacing="2.5">21</text>
<text class="n" transform="translate(14.40 317.50) skewX(-9) scale(0.580 1)" font-size="32.06" font-weight="bold" stroke="#000" stroke-width="2.2" stroke-linejoin="round" vector-effect="non-scaling-stroke" letter-spacing="2.5">20</text>
<text class="n" transform="translate(19.50 363.00) skewX(-9) scale(0.516 1)" font-size="29.34" font-weight="bold" stroke="#000" stroke-width="2.2" stroke-linejoin="round" vector-effect="non-scaling-stroke" letter-spacing="2.5">19</text>
<text class="n" transform="translate(16.30 409.60) skewX(-9) scale(0.508 1)" font-size="30.45" font-weight="bold" stroke="#000" stroke-width="2.2" stroke-linejoin="round" vector-effect="non-scaling-stroke" letter-spacing="2.5">18</text>
<text class="n" transform="translate(13.00 498.50) skewX(-9) scale(0.495 1)" font-size="28.55" font-weight="bold" stroke="#000" stroke-width="2.2" stroke-linejoin="round" vector-effect="non-scaling-stroke" letter-spacing="2.5">17</text>
<text class="n" transform="translate(15.50 589.00) skewX(-9) scale(0.474 1)" font-size="26.63" font-weight="bold" stroke="#000" stroke-width="2.2" stroke-linejoin="round" vector-effect="non-scaling-stroke" letter-spacing="2.5">16</text>
<text class="n" transform="translate(390.50 497.50) skewX(-9) scale(0.497 1)" font-size="26.46" font-weight="bold" stroke="#000" stroke-width="2.2" stroke-linejoin="round" vector-effect="non-scaling-stroke" letter-spacing="2.5">11</text>
<text class="n" transform="translate(499.60 593.40) skewX(-9) scale(0.492 1)" font-size="28.11" font-weight="bold" stroke="#000" stroke-width="2.2" stroke-linejoin="round" vector-effect="non-scaling-stroke" letter-spacing="2.5">12</text>
<text class="n" transform="translate(500.80 675.10) skewX(-9) scale(0.466 1)" font-size="32.00" font-weight="bold" stroke="#000" stroke-width="2.2" stroke-linejoin="round" vector-effect="non-scaling-stroke" letter-spacing="2.5">13</text>
<text class="n" transform="translate(340.10 733.00) skewX(-9) scale(0.493 1)" font-size="30.56" font-weight="bold" stroke="#000" stroke-width="2.2" stroke-linejoin="round" vector-effect="non-scaling-stroke" letter-spacing="2.5">14</text>
<text class="n" transform="translate(344.30 796.80) skewX(-9) scale(0.556 1)" font-size="30.11" font-weight="bold" stroke="#000" stroke-width="2.2" stroke-linejoin="round" vector-effect="non-scaling-stroke" letter-spacing="2.5">15</text>
<text class="n" transform="translate(695.50 80.00) skewX(-9) scale(0.640 1)" font-size="25.75" font-weight="bold" stroke="#000" stroke-width="1.3" stroke-linejoin="round" vector-effect="non-scaling-stroke" letter-spacing="2.5">3</text>
<text class="n" transform="translate(625.00 328.00) skewX(-9) scale(0.759 1)" font-size="27.78" font-weight="bold" stroke="#000" stroke-width="1.3" stroke-linejoin="round" vector-effect="non-scaling-stroke" letter-spacing="2.5">7</text>
<text class="n" transform="translate(630.00 384.00) skewX(-9) scale(0.596 1)" font-size="27.78" font-weight="bold" stroke="#000" stroke-width="1.3" stroke-linejoin="round" vector-effect="non-scaling-stroke" letter-spacing="2.5">8</text>
<text class="n" transform="translate(630.00 433.00) skewX(-9) scale(0.566 1)" font-size="26.39" font-weight="bold" stroke="#000" stroke-width="1.3" stroke-linejoin="round" vector-effect="non-scaling-stroke" letter-spacing="2.5">9</text>
<text class="n" transform="translate(625.50 547.00) skewX(-9) scale(0.366 1)" font-size="27.31" font-weight="bold" stroke="#000" stroke-width="2.2" stroke-linejoin="round" vector-effect="non-scaling-stroke" letter-spacing="2.5">10</text>
<text class="n" transform="translate(974.70 305.10) skewX(-9) scale(0.754 1)" font-size="30.02" font-weight="normal" stroke="#000" stroke-width="1.1" stroke-linejoin="round" vector-effect="non-scaling-stroke" letter-spacing="2.5">4</text>
<text class="n" transform="translate(835.00 509.00) skewX(-9) scale(0.801 1)" font-size="27.78" font-weight="normal" stroke="#000" stroke-width="1.1" stroke-linejoin="round" vector-effect="non-scaling-stroke" letter-spacing="2.5">6</text>
<text class="n" transform="translate(835.00 555.00) skewX(-9) scale(0.680 1)" font-size="27.78" font-weight="bold" stroke="#000" stroke-width="1.3" stroke-linejoin="round" vector-effect="non-scaling-stroke" letter-spacing="2.5">5</text>
</g>
<g id="wm">
<g transform="translate(0,0)"><clipPath id="gt0"><rect x="90" y="70" width="100" height="62.5"/></clipPath><clipPath id="gb0"><rect x="90" y="132.5" width="100" height="50"/></clipPath><g clip-path="url(#gt0)"><path d="M153.6 121.5 L159.5 122.5 L159.2 128.9 L153.2 129.3 L151.0 135.1 L155.2 139.5 L151.2 144.4 L146.1 141.3 L140.9 144.7 L141.7 150.6 L135.6 152.3 L133.3 146.7 L127.1 146.4 L124.3 151.7 L118.3 149.4 L119.7 143.6 L114.9 139.7 L109.5 142.3 L106.0 137.0 L110.6 133.1 L109.0 127.1 L103.1 126.1 L103.4 119.7 L109.4 119.3 L111.6 113.5 L107.4 109.1 L111.4 104.2 L116.5 107.3 L121.7 103.9 L120.9 98.0 L127.0 96.3 L129.3 101.9 L135.5 102.2 L138.3 96.9 L144.3 99.2 L142.9 105.0 L147.7 108.9 L153.1 106.3 L156.6 111.6 L152.0 115.5 Z M116.5 124.3 a14.8 14.8 0 1 0 29.6 0 a14.8 14.8 0 1 0 -29.6 0 Z" fill="#ebb849" fill-rule="evenodd" fill-opacity="0.17"/><path d="M177.2 95.9 L180.9 96.7 L180.6 100.1 L176.8 100.2 L175.6 103.3 L178.4 105.8 L176.4 108.6 L173.1 106.8 L170.5 108.9 L171.7 112.5 L168.5 113.9 L166.6 110.6 L163.3 111.2 L162.5 114.9 L159.1 114.6 L159.0 110.8 L155.9 109.6 L153.4 112.4 L150.6 110.4 L152.4 107.1 L150.3 104.5 L146.7 105.7 L145.3 102.5 L148.6 100.6 L148.0 97.3 L144.3 96.5 L144.6 93.1 L148.4 93.0 L149.6 89.9 L146.8 87.4 L148.8 84.6 L152.1 86.4 L154.7 84.3 L153.5 80.7 L156.7 79.3 L158.6 82.6 L161.9 82.0 L162.7 78.3 L166.1 78.6 L166.2 82.4 L169.3 83.6 L171.8 80.8 L174.6 82.8 L172.8 86.1 L174.9 88.7 L178.5 87.5 L179.9 90.7 L176.6 92.6 Z M151.2 96.6 a11.4 11.4 0 1 0 22.8 0 a11.4 11.4 0 1 0 -22.8 0 Z" fill="#ebb849" fill-rule="evenodd" fill-opacity="0.17"/></g><g clip-path="url(#gb0)"><path d="M153.6 121.5 L159.5 122.5 L159.2 128.9 L153.2 129.3 L151.0 135.1 L155.2 139.5 L151.2 144.4 L146.1 141.3 L140.9 144.7 L141.7 150.6 L135.6 152.3 L133.3 146.7 L127.1 146.4 L124.3 151.7 L118.3 149.4 L119.7 143.6 L114.9 139.7 L109.5 142.3 L106.0 137.0 L110.6 133.1 L109.0 127.1 L103.1 126.1 L103.4 119.7 L109.4 119.3 L111.6 113.5 L107.4 109.1 L111.4 104.2 L116.5 107.3 L121.7 103.9 L120.9 98.0 L127.0 96.3 L129.3 101.9 L135.5 102.2 L138.3 96.9 L144.3 99.2 L142.9 105.0 L147.7 108.9 L153.1 106.3 L156.6 111.6 L152.0 115.5 Z M116.5 124.3 a14.8 14.8 0 1 0 29.6 0 a14.8 14.8 0 1 0 -29.6 0 Z" fill="#a08c50" fill-rule="evenodd" fill-opacity="0.075"/><path d="M178.2 152.4 L181.7 153.9 L180.7 157.2 L177.0 156.5 L175.2 159.3 L177.4 162.4 L174.9 164.7 L172.1 162.2 L169.1 163.8 L169.5 167.6 L166.2 168.3 L164.9 164.8 L161.6 164.6 L160.1 168.1 L156.8 167.1 L157.5 163.4 L154.7 161.6 L151.6 163.8 L149.3 161.3 L151.8 158.5 L150.2 155.5 L146.4 155.9 L145.7 152.6 L149.2 151.3 L149.4 148.0 L145.9 146.5 L146.9 143.2 L150.6 143.9 L152.4 141.1 L150.2 138.0 L152.7 135.7 L155.5 138.2 L158.5 136.6 L158.1 132.8 L161.4 132.1 L162.7 135.6 L166.0 135.8 L167.5 132.3 L170.8 133.3 L170.1 137.0 L172.9 138.8 L176.0 136.6 L178.3 139.1 L175.8 141.9 L177.4 144.9 L181.2 144.5 L181.9 147.8 L178.4 149.1 Z M152.4 150.2 a11.4 11.4 0 1 0 22.8 0 a11.4 11.4 0 1 0 -22.8 0 Z" fill="#a08c50" fill-rule="evenodd" fill-opacity="0.075"/></g><g opacity="0.15" fill="#0c0a0c" stroke="#0c0a0c" stroke-linejoin="round"><text x="189.3" y="129.6" font-size="24.2" stroke-width="0.8" textLength="202" lengthAdjust="spacingAndGlyphs">CHTZ–PARTS.RU</text><text x="189.3" y="146" font-size="14.4" stroke-width="0.15" textLength="159.5" lengthAdjust="spacingAndGlyphs">запчасти к тракторам</text><text x="351" y="145.9" font-size="16.2" stroke-width="0.45" textLength="45" lengthAdjust="spacingAndGlyphs">ЧТЗ</text></g></g>
<g transform="translate(0,250.5)"><clipPath id="gt250"><rect x="90" y="70" width="100" height="62.5"/></clipPath><clipPath id="gb250"><rect x="90" y="132.5" width="100" height="50"/></clipPath><g clip-path="url(#gt250)"><path d="M153.6 121.5 L159.5 122.5 L159.2 128.9 L153.2 129.3 L151.0 135.1 L155.2 139.5 L151.2 144.4 L146.1 141.3 L140.9 144.7 L141.7 150.6 L135.6 152.3 L133.3 146.7 L127.1 146.4 L124.3 151.7 L118.3 149.4 L119.7 143.6 L114.9 139.7 L109.5 142.3 L106.0 137.0 L110.6 133.1 L109.0 127.1 L103.1 126.1 L103.4 119.7 L109.4 119.3 L111.6 113.5 L107.4 109.1 L111.4 104.2 L116.5 107.3 L121.7 103.9 L120.9 98.0 L127.0 96.3 L129.3 101.9 L135.5 102.2 L138.3 96.9 L144.3 99.2 L142.9 105.0 L147.7 108.9 L153.1 106.3 L156.6 111.6 L152.0 115.5 Z M116.5 124.3 a14.8 14.8 0 1 0 29.6 0 a14.8 14.8 0 1 0 -29.6 0 Z" fill="#ebb849" fill-rule="evenodd" fill-opacity="0.17"/><path d="M177.2 95.9 L180.9 96.7 L180.6 100.1 L176.8 100.2 L175.6 103.3 L178.4 105.8 L176.4 108.6 L173.1 106.8 L170.5 108.9 L171.7 112.5 L168.5 113.9 L166.6 110.6 L163.3 111.2 L162.5 114.9 L159.1 114.6 L159.0 110.8 L155.9 109.6 L153.4 112.4 L150.6 110.4 L152.4 107.1 L150.3 104.5 L146.7 105.7 L145.3 102.5 L148.6 100.6 L148.0 97.3 L144.3 96.5 L144.6 93.1 L148.4 93.0 L149.6 89.9 L146.8 87.4 L148.8 84.6 L152.1 86.4 L154.7 84.3 L153.5 80.7 L156.7 79.3 L158.6 82.6 L161.9 82.0 L162.7 78.3 L166.1 78.6 L166.2 82.4 L169.3 83.6 L171.8 80.8 L174.6 82.8 L172.8 86.1 L174.9 88.7 L178.5 87.5 L179.9 90.7 L176.6 92.6 Z M151.2 96.6 a11.4 11.4 0 1 0 22.8 0 a11.4 11.4 0 1 0 -22.8 0 Z" fill="#ebb849" fill-rule="evenodd" fill-opacity="0.17"/></g><g clip-path="url(#gb250)"><path d="M153.6 121.5 L159.5 122.5 L159.2 128.9 L153.2 129.3 L151.0 135.1 L155.2 139.5 L151.2 144.4 L146.1 141.3 L140.9 144.7 L141.7 150.6 L135.6 152.3 L133.3 146.7 L127.1 146.4 L124.3 151.7 L118.3 149.4 L119.7 143.6 L114.9 139.7 L109.5 142.3 L106.0 137.0 L110.6 133.1 L109.0 127.1 L103.1 126.1 L103.4 119.7 L109.4 119.3 L111.6 113.5 L107.4 109.1 L111.4 104.2 L116.5 107.3 L121.7 103.9 L120.9 98.0 L127.0 96.3 L129.3 101.9 L135.5 102.2 L138.3 96.9 L144.3 99.2 L142.9 105.0 L147.7 108.9 L153.1 106.3 L156.6 111.6 L152.0 115.5 Z M116.5 124.3 a14.8 14.8 0 1 0 29.6 0 a14.8 14.8 0 1 0 -29.6 0 Z" fill="#a08c50" fill-rule="evenodd" fill-opacity="0.075"/><path d="M178.2 152.4 L181.7 153.9 L180.7 157.2 L177.0 156.5 L175.2 159.3 L177.4 162.4 L174.9 164.7 L172.1 162.2 L169.1 163.8 L169.5 167.6 L166.2 168.3 L164.9 164.8 L161.6 164.6 L160.1 168.1 L156.8 167.1 L157.5 163.4 L154.7 161.6 L151.6 163.8 L149.3 161.3 L151.8 158.5 L150.2 155.5 L146.4 155.9 L145.7 152.6 L149.2 151.3 L149.4 148.0 L145.9 146.5 L146.9 143.2 L150.6 143.9 L152.4 141.1 L150.2 138.0 L152.7 135.7 L155.5 138.2 L158.5 136.6 L158.1 132.8 L161.4 132.1 L162.7 135.6 L166.0 135.8 L167.5 132.3 L170.8 133.3 L170.1 137.0 L172.9 138.8 L176.0 136.6 L178.3 139.1 L175.8 141.9 L177.4 144.9 L181.2 144.5 L181.9 147.8 L178.4 149.1 Z M152.4 150.2 a11.4 11.4 0 1 0 22.8 0 a11.4 11.4 0 1 0 -22.8 0 Z" fill="#a08c50" fill-rule="evenodd" fill-opacity="0.075"/></g><g opacity="0.15" fill="#0c0a0c" stroke="#0c0a0c" stroke-linejoin="round"><text x="189.3" y="129.6" font-size="24.2" stroke-width="0.8" textLength="202" lengthAdjust="spacingAndGlyphs">CHTZ–PARTS.RU</text><text x="189.3" y="146" font-size="14.4" stroke-width="0.15" textLength="159.5" lengthAdjust="spacingAndGlyphs">запчасти к тракторам</text><text x="351" y="145.9" font-size="16.2" stroke-width="0.45" textLength="45" lengthAdjust="spacingAndGlyphs">ЧТЗ</text></g></g>
<g transform="translate(0,501)"><clipPath id="gt501"><rect x="90" y="70" width="100" height="62.5"/></clipPath><clipPath id="gb501"><rect x="90" y="132.5" width="100" height="50"/></clipPath><g clip-path="url(#gt501)"><path d="M153.6 121.5 L159.5 122.5 L159.2 128.9 L153.2 129.3 L151.0 135.1 L155.2 139.5 L151.2 144.4 L146.1 141.3 L140.9 144.7 L141.7 150.6 L135.6 152.3 L133.3 146.7 L127.1 146.4 L124.3 151.7 L118.3 149.4 L119.7 143.6 L114.9 139.7 L109.5 142.3 L106.0 137.0 L110.6 133.1 L109.0 127.1 L103.1 126.1 L103.4 119.7 L109.4 119.3 L111.6 113.5 L107.4 109.1 L111.4 104.2 L116.5 107.3 L121.7 103.9 L120.9 98.0 L127.0 96.3 L129.3 101.9 L135.5 102.2 L138.3 96.9 L144.3 99.2 L142.9 105.0 L147.7 108.9 L153.1 106.3 L156.6 111.6 L152.0 115.5 Z M116.5 124.3 a14.8 14.8 0 1 0 29.6 0 a14.8 14.8 0 1 0 -29.6 0 Z" fill="#ebb849" fill-rule="evenodd" fill-opacity="0.17"/><path d="M177.2 95.9 L180.9 96.7 L180.6 100.1 L176.8 100.2 L175.6 103.3 L178.4 105.8 L176.4 108.6 L173.1 106.8 L170.5 108.9 L171.7 112.5 L168.5 113.9 L166.6 110.6 L163.3 111.2 L162.5 114.9 L159.1 114.6 L159.0 110.8 L155.9 109.6 L153.4 112.4 L150.6 110.4 L152.4 107.1 L150.3 104.5 L146.7 105.7 L145.3 102.5 L148.6 100.6 L148.0 97.3 L144.3 96.5 L144.6 93.1 L148.4 93.0 L149.6 89.9 L146.8 87.4 L148.8 84.6 L152.1 86.4 L154.7 84.3 L153.5 80.7 L156.7 79.3 L158.6 82.6 L161.9 82.0 L162.7 78.3 L166.1 78.6 L166.2 82.4 L169.3 83.6 L171.8 80.8 L174.6 82.8 L172.8 86.1 L174.9 88.7 L178.5 87.5 L179.9 90.7 L176.6 92.6 Z M151.2 96.6 a11.4 11.4 0 1 0 22.8 0 a11.4 11.4 0 1 0 -22.8 0 Z" fill="#ebb849" fill-rule="evenodd" fill-opacity="0.17"/></g><g clip-path="url(#gb501)"><path d="M153.6 121.5 L159.5 122.5 L159.2 128.9 L153.2 129.3 L151.0 135.1 L155.2 139.5 L151.2 144.4 L146.1 141.3 L140.9 144.7 L141.7 150.6 L135.6 152.3 L133.3 146.7 L127.1 146.4 L124.3 151.7 L118.3 149.4 L119.7 143.6 L114.9 139.7 L109.5 142.3 L106.0 137.0 L110.6 133.1 L109.0 127.1 L103.1 126.1 L103.4 119.7 L109.4 119.3 L111.6 113.5 L107.4 109.1 L111.4 104.2 L116.5 107.3 L121.7 103.9 L120.9 98.0 L127.0 96.3 L129.3 101.9 L135.5 102.2 L138.3 96.9 L144.3 99.2 L142.9 105.0 L147.7 108.9 L153.1 106.3 L156.6 111.6 L152.0 115.5 Z M116.5 124.3 a14.8 14.8 0 1 0 29.6 0 a14.8 14.8 0 1 0 -29.6 0 Z" fill="#a08c50" fill-rule="evenodd" fill-opacity="0.075"/><path d="M178.2 152.4 L181.7 153.9 L180.7 157.2 L177.0 156.5 L175.2 159.3 L177.4 162.4 L174.9 164.7 L172.1 162.2 L169.1 163.8 L169.5 167.6 L166.2 168.3 L164.9 164.8 L161.6 164.6 L160.1 168.1 L156.8 167.1 L157.5 163.4 L154.7 161.6 L151.6 163.8 L149.3 161.3 L151.8 158.5 L150.2 155.5 L146.4 155.9 L145.7 152.6 L149.2 151.3 L149.4 148.0 L145.9 146.5 L146.9 143.2 L150.6 143.9 L152.4 141.1 L150.2 138.0 L152.7 135.7 L155.5 138.2 L158.5 136.6 L158.1 132.8 L161.4 132.1 L162.7 135.6 L166.0 135.8 L167.5 132.3 L170.8 133.3 L170.1 137.0 L172.9 138.8 L176.0 136.6 L178.3 139.1 L175.8 141.9 L177.4 144.9 L181.2 144.5 L181.9 147.8 L178.4 149.1 Z M152.4 150.2 a11.4 11.4 0 1 0 22.8 0 a11.4 11.4 0 1 0 -22.8 0 Z" fill="#a08c50" fill-rule="evenodd" fill-opacity="0.075"/></g><g opacity="0.15" fill="#0c0a0c" stroke="#0c0a0c" stroke-linejoin="round"><text x="189.3" y="129.6" font-size="24.2" stroke-width="0.8" textLength="202" lengthAdjust="spacingAndGlyphs">CHTZ–PARTS.RU</text><text x="189.3" y="146" font-size="14.4" stroke-width="0.15" textLength="159.5" lengthAdjust="spacingAndGlyphs">запчасти к тракторам</text><text x="351" y="145.9" font-size="16.2" stroke-width="0.45" textLength="45" lengthAdjust="spacingAndGlyphs">ЧТЗ</text></g></g>
</g>
</svg>
</body>
</html>
